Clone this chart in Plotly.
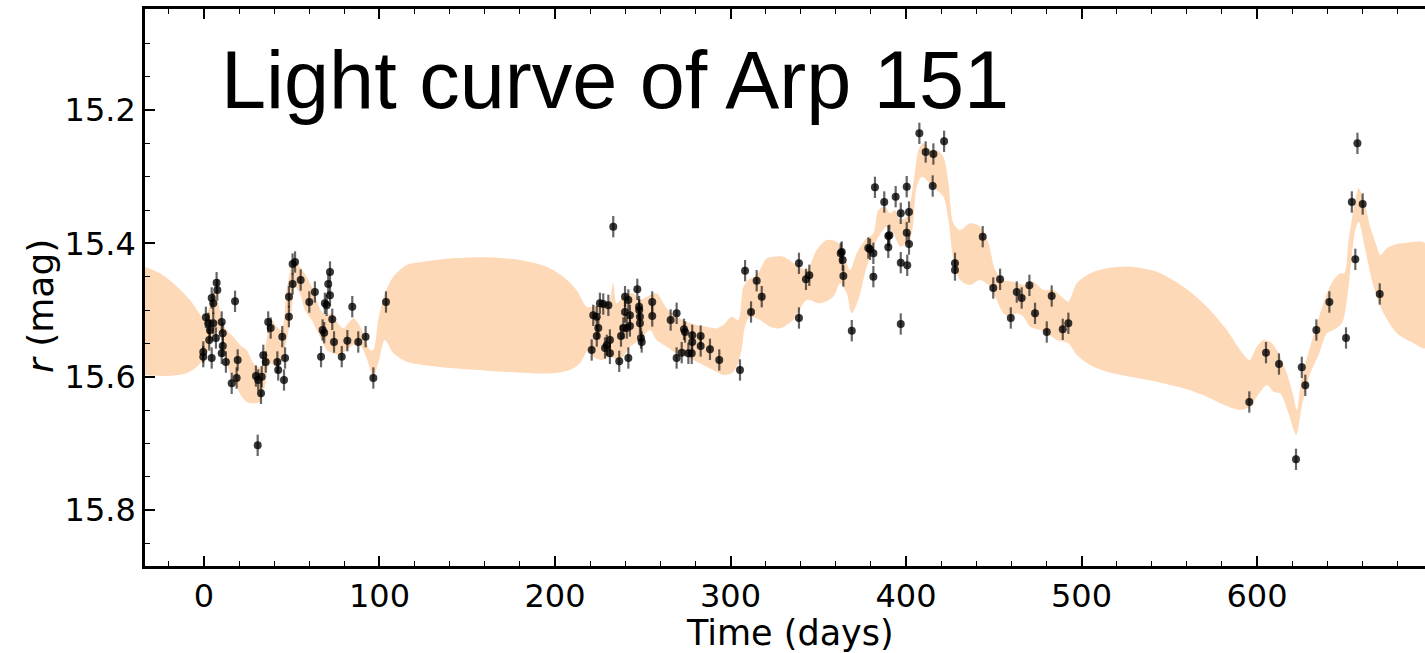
import plotly.graph_objects as go

# ---- observed light curve (time in days, r magnitude) ----
t_obs = [-0.4, -0.4, 1.1, 2.5, 3.0, 3.4, 4.4, 4.4, 5.3, 5.3, 6.8, 7.2, 7.6, 10.1, 10.1, 10.7, 10.7, 12.5,
         15.8, 17.7, 18.6, 19.2, 29.6, 30.6, 30.9, 32.5, 32.9, 33.8, 35.2, 36.6, 38.0, 41.8, 42.3, 44.6,
         45.6, 46.2, 48.4, 48.4, 50.5, 50.5, 51.9, 55.1, 60.0, 63.2, 66.7, 67.6, 68.5, 68.9, 69.9, 70.8,
         71.8, 71.8, 73.1, 74.1, 78.5, 81.7, 84.5, 87.9, 92.1, 96.5, 103.7,
         220.9, 221.8, 223.8, 223.8, 224.7, 225.6, 227.5, 228.5, 229.5, 230.4, 231.3, 231.3, 233.2, 236.6,
         237.6, 238.9, 239.9, 239.9, 240.9, 241.8, 241.8, 242.7, 242.7, 246.9, 247.9, 248.0, 248.4, 248.4,
         249.0, 249.4, 255.4, 255.4, 265.9, 269.3, 269.3, 272.2, 273.5, 274.1, 276.0, 277.9, 278.2, 278.2,
         283.0, 283.0, 288.3, 293.6,
         305.4, 308.3, 311.7, 314.9, 317.8, 339.0, 339.0, 343.0, 344.9, 362.8, 363.4, 363.9, 364.3, 369.1,
         378.5, 379.5, 381.4, 381.4, 382.3, 387.6, 389.9, 390.5, 389.9, 394.1, 397.0, 397.0, 397.0, 400.4,
         400.4, 400.7, 401.7, 401.7, 407.6, 411.2, 415.2, 415.6, 421.7, 427.9, 427.9, 443.7, 449.7, 453.6,
         459.7, 463.1, 465.9, 470.3, 473.5, 480.2, 483.0, 489.3, 492.5,
         595.6, 605.1, 612.5, 622.2, 625.5, 627.5, 633.8, 641.2, 650.7, 654.0, 656.0, 657.2, 660.2, 669.9]
r_obs = [15.563, 15.570, 15.511, 15.520, 15.545, 15.530, 15.572, 15.482, 15.490, 15.520, 15.542, 15.459, 15.470,
         15.518, 15.565, 15.535, 15.554, 15.578, 15.610, 15.487, 15.602, 15.575, 15.599, 15.703, 15.605, 15.625,
         15.600, 15.568, 15.578, 15.518, 15.527, 15.578, 15.590, 15.540, 15.605, 15.572, 15.510, 15.480, 15.461,
         15.431, 15.428, 15.455, 15.488, 15.473, 15.570, 15.530, 15.534, 15.490, 15.493, 15.461, 15.443, 15.478,
         15.514, 15.548, 15.570, 15.546, 15.495, 15.548, 15.540, 15.602, 15.488,
         15.560, 15.508, 15.510, 15.539, 15.527, 15.490, 15.491, 15.557, 15.553, 15.493, 15.545, 15.565, 15.375,
         15.577, 15.539, 15.527, 15.480, 15.503, 15.527, 15.485, 15.572, 15.508, 15.524, 15.469, 15.495, 15.500,
         15.510, 15.520, 15.542, 15.548, 15.488, 15.509, 15.515, 15.505, 15.572, 15.564, 15.529, 15.533, 15.565,
         15.565, 15.538, 15.548, 15.539, 15.554, 15.559, 15.575,
         15.590, 15.441, 15.503, 15.456, 15.480, 15.430, 15.512, 15.454, 15.448, 15.415, 15.413, 15.425, 15.449,
         15.531, 15.407, 15.409, 15.415, 15.450, 15.316, 15.338, 15.389, 15.388, 15.406, 15.330, 15.355, 15.429,
         15.521, 15.315, 15.384, 15.433, 15.353, 15.401, 15.235, 15.263, 15.314, 15.266, 15.247, 15.430, 15.440,
         15.390, 15.467, 15.454, 15.512, 15.473, 15.482, 15.463, 15.505, 15.533, 15.479, 15.529, 15.520,
         15.638, 15.564, 15.581, 15.724, 15.586, 15.613, 15.530, 15.488, 15.542, 15.338, 15.424, 15.250, 15.341,
         15.476]
r_err = 0.016

# ---- model band: bright (upper) edge and faint (lower) edge ----
t_up = [-33.6, -25, -17.5, -8, -1.3, 0.6, 2.5, 4.6, 6.3, 8.2, 10.1, 12.9, 16.7, 20.5, 24.3, 28.1, 30.0, 32.8,
        35.7, 38.5, 41.4, 44.2, 47.1, 49.9, 51.8, 54.7, 58.5, 61.4, 64.2, 67.1, 69.9, 72.8, 75.6, 79.4, 82.2,
        85.1, 87.9, 90.8, 94.6, 96.5, 99.3, 103.1, 107.9, 115.5, 125, 142, 161, 180, 195.2, 204.7, 212.3, 218,
        221.8, 226.6, 230.4, 233.2, 235.1, 238.9, 244.6, 248.4, 254.1, 257.9, 263.6, 269.3, 275, 280.7, 286.4,
        292.1, 295.9, 300.6, 304.4, 307.3, 310.1, 314.9, 320.6, 324.4, 330.1, 337.7, 343.4, 349.1, 354.8, 360.5,
        364.3, 368.1, 371.9, 376.6, 381.4, 384.2, 388, 390.9, 393.7, 396.6, 400.4, 404.2, 407.1, 409.9, 413.7,
        417.5, 421.3, 424.2, 427, 430.8, 436.5, 442.2, 447, 450.8, 455.5, 461.2, 466.9, 472.6, 478.3, 484,
        489.7, 492.5, 497.3, 504.9, 514.4, 527.7, 542.9, 558.1, 571.4, 582.8, 590.4, 595.7, 599.9, 603.7, 607.5,
        611.3, 617, 620.8, 622.7, 625.5, 630.3, 636, 639.8, 643.6, 647.4, 649.7, 652.2, 656, 657.9, 660.7, 664.5,
        668.3, 670.2, 674, 679.7, 685.4, 695.8]
r_up = [15.435, 15.445, 15.46, 15.485, 15.51, 15.515, 15.50, 15.48, 15.4725, 15.49, 15.5125, 15.53, 15.54, 15.5525,
        15.56, 15.58, 15.585, 15.585, 15.545, 15.515, 15.525, 15.53, 15.47, 15.435, 15.4275, 15.435, 15.45, 15.465,
        15.485, 15.5025, 15.5075, 15.505, 15.5175, 15.5275, 15.52, 15.5125, 15.52, 15.535, 15.56, 15.56, 15.515,
        15.475, 15.45, 15.4325, 15.4275, 15.4225, 15.421, 15.425, 15.435, 15.45, 15.47, 15.495, 15.495, 15.485,
        15.49, 15.46, 15.49, 15.48, 15.475, 15.485, 15.4775, 15.475, 15.4975, 15.51, 15.5175, 15.5225, 15.525,
        15.5275, 15.5225, 15.51, 15.515, 15.465, 15.455, 15.4475, 15.4225, 15.42, 15.42, 15.4325, 15.44, 15.41,
        15.395, 15.3975, 15.415, 15.44, 15.415, 15.395, 15.385, 15.35, 15.345, 15.355, 15.35, 15.365, 15.36, 15.31,
        15.26, 15.25, 15.26, 15.26, 15.27, 15.31, 15.37, 15.38, 15.37, 15.375, 15.40, 15.44, 15.455, 15.4575,
        15.4625, 15.4575, 15.47, 15.47, 15.4825, 15.4875, 15.46, 15.445, 15.4375, 15.435, 15.4425, 15.465, 15.495,
        15.53, 15.56, 15.575, 15.555, 15.545, 15.5475, 15.56, 15.595, 15.63, 15.65, 15.60, 15.555, 15.505, 15.475,
        15.455, 15.445, 15.445, 15.395, 15.335, 15.3175, 15.335, 15.375, 15.405, 15.4175, 15.4075, 15.401, 15.399,
        15.40]
t_lo = [-33.6, -20, -10, -4, -0.5, 1.5, 4.4, 7.2, 10.1, 12.9, 15.8, 18.6, 21.5, 24.3, 28.1, 31.9, 34.7, 37.6,
        41.4, 44.2, 47.1, 49.9, 51.8, 54.7, 57.5, 61.4, 64.2, 67.1, 69.9, 73.7, 77.5, 81.3, 85.1, 88.9, 92.7,
        96.5, 99.3, 103.1, 107.9, 115.5, 125, 142, 161, 180, 199, 208.5, 214.2, 219, 221.8, 226.6, 231.3, 237,
        242.7, 248.4, 254.1, 257.9, 263.6, 269.3, 275, 280.7, 286.4, 292.1, 295.9, 300.6, 303.5, 306.3, 308.2,
        311.1, 316.8, 322.5, 328.2, 335.8, 343.4, 351, 358.6, 362.4, 366.2, 369.1, 372.8, 377.6, 383.3, 389,
        392.8, 396.6, 400.4, 403.3, 406.1, 409, 413.7, 417.5, 421.3, 424.2, 427, 430.8, 436.5, 442.2, 447.9,
        451.7, 455.5, 459.4, 463.2, 466.9, 470.7, 476.4, 480.2, 485.9, 492.5, 497.3, 504.9, 514.4, 527.7, 542.9,
        558.1, 571.4, 582.8, 590.4, 595.7, 599.9, 605.6, 609.4, 613.2, 617.9, 622.3, 625.5, 630.3, 635.1, 639.8,
        643.6, 648.4, 651.2, 656, 657.9, 661.7, 666.4, 672.1, 679.7, 689.2, 695.8]
r_lo = [15.5975, 15.599, 15.595, 15.585, 15.575, 15.565, 15.5475, 15.5325, 15.545, 15.5775, 15.60, 15.615, 15.63,
        15.6375, 15.64, 15.6375, 15.615, 15.58, 15.585, 15.5775, 15.545, 15.505, 15.465, 15.475, 15.50, 15.515,
        15.53, 15.545, 15.56, 15.565, 15.5675, 15.56, 15.5525, 15.5525, 15.5725, 15.60, 15.58, 15.545, 15.565,
        15.5775, 15.5825, 15.5875, 15.591, 15.594, 15.595, 15.59, 15.58, 15.56, 15.57, 15.575, 15.57, 15.575,
        15.555, 15.545, 15.53, 15.545, 15.555, 15.565, 15.57, 15.5775, 15.585, 15.5925, 15.5975, 15.595, 15.585,
        15.56, 15.525, 15.51, 15.515, 15.525, 15.5275, 15.515, 15.485, 15.49, 15.48, 15.46, 15.475, 15.505, 15.485,
        15.435, 15.395, 15.375, 15.385, 15.405, 15.40, 15.385, 15.315, 15.30, 15.31, 15.32, 15.33, 15.365, 15.425,
        15.455, 15.4625, 15.455, 15.465, 15.485, 15.505, 15.51, 15.505, 15.51, 15.525, 15.53, 15.535, 15.545,
        15.55, 15.5675, 15.5825, 15.5925, 15.60, 15.6075, 15.6175, 15.63, 15.644, 15.65, 15.645, 15.63, 15.6125,
        15.6225, 15.625, 15.655, 15.6875, 15.645, 15.595, 15.5675, 15.535, 15.53, 15.52, 15.485, 15.38, 15.3675,
        15.41, 15.465, 15.505, 15.535, 15.55, 15.5575]

title_text = "Light curve of Arp 151"
x_label = "Time (days)"
y_label = "<i>r</i> (mag)"
x_ticks = [0, 100, 200, 300, 400, 500, 600]
y_ticks = [15.2, 15.4, 15.6, 15.8]

BAND = "rgb(253,217,184)"
TICKFONT = dict(family="DejaVu Sans", size=32, color="black")
XLABELFONT = dict(family="DejaVu Sans", size=35, color="black")
YLABELFONT = dict(family="DejaVu Sans", size=36, color="black")

fig = go.Figure()
fig.add_trace(go.Scatter(
    x=t_up + t_lo[::-1], y=r_up + r_lo[::-1],
    fill="toself", fillcolor=BAND, mode="lines",
    line=dict(width=0, color=BAND, shape="spline", smoothing=0.8),
    hoverinfo="skip", showlegend=False))
fig.add_trace(go.Scatter(
    x=t_obs, y=r_obs, mode="markers",
    marker=dict(size=8, color="rgba(0,0,0,0.78)", line=dict(width=0)),
    error_y=dict(type="constant", value=r_err, thickness=2.2, width=0, color="rgba(0,0,0,0.6)"),
    showlegend=False))

fig.add_annotation(
    text=title_text, xref="paper", yref="paper", x=0.058, y=0.957,
    xanchor="left", yanchor="top", showarrow=False,
    font=dict(family="Liberation Sans", size=81, color="black"))

# axis titles placed as annotations for precise positioning
fig.add_annotation(
    text=x_label, xref="paper", yref="paper", x=(790 - 145) / 1280, y=-(633 - 566) / 557,
    xanchor="center", yanchor="middle", showarrow=False, font=XLABELFONT)
fig.add_annotation(
    text=y_label, xref="paper", yref="paper", x=-(145 - 40) / 1280, y=1 - (306 - 9) / 557,
    xanchor="center", yanchor="middle", showarrow=False, textangle=-90, font=YLABELFONT)

axis_common = dict(
    showgrid=False, zeroline=False, showline=True, linecolor="black", linewidth=2.5,
    ticks="inside", ticklen=10, tickwidth=1.6, tickcolor="black", tickfont=TICKFONT,
)
fig.update_xaxes(
    range=[-33.6, 695.7], tickvals=x_ticks, mirror="allticks",
    minor=dict(dtick=20, tick0=0, ticks="inside", ticklen=5, tickwidth=1.2, tickcolor="black"),
    **axis_common)
fig.update_yaxes(
    range=[15.884, 15.0485], tickvals=y_ticks, tickformat=".1f", mirror=False,
    minor=dict(dtick=0.05, tick0=15.0, ticks="inside", ticklen=5, tickwidth=1.2, tickcolor="black"),
    **axis_common)

fig.update_layout(
    width=1425, height=653, margin=dict(l=145, r=0, t=9, b=87),
    plot_bgcolor="white", paper_bgcolor="white",
)
fig.write_html("out.html")
